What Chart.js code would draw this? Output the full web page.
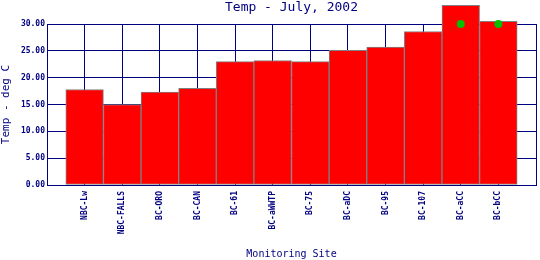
<!DOCTYPE html>
<html lang="en">
<head>
    <meta charset="UTF-8">
    <title>Temp - July, 2002</title>
    <script src="https://cdn.jsdelivr.net/npm/chart.js"></script>
    <style>
        body { margin: 0; background: #fff; }
        .wrap { width: 540px; height: 260px; }
    </style>
</head>
<body>
    <div class="wrap"><canvas id="tempChart" width="540" height="260"></canvas></div>

    <script>
        // sites along the x axis
        const sites = ['NBC-Lw', 'NBC-FALLS', 'BC-ORO', 'BC-CAN', 'BC-61', 'BC-aWWTP',
                       'BC-75', 'BC-aDC', 'BC-95', 'BC-107', 'BC-aCC', 'BC-bCC'];
        // mean temperature (deg C) per site
        const temps = [17.8, 15.0, 17.3, 18.0, 23.0, 23.2, 23.0, 25.1, 25.7, 28.6, 33.5, 30.5];
        // green markers (only two sites have one)
        const markers = [null, null, null, null, null, null, null, null, null, null, 30, 30];
        const yTicks = [0, 5, 10, 15, 20, 25, 30];

        const NAVY = '#000080';
        const MONO = 'DejaVu Sans Mono';

        // x is the site index; a linear axis leaves one empty unit split over both ends
        const barPts = temps.map((v, i) => ({ x: i, y: v }));
        const markPts = markers.map((v, i) => ({ x: i, y: v }));

        new Chart(document.getElementById('tempChart').getContext('2d'), {
            type: 'bar',
            data: {
                datasets: [
                    {
                        type: 'line',
                        data: markPts,
                        showLine: false,
                        pointRadius: 4,
                        pointBackgroundColor: '#00c000',
                        pointBorderWidth: 0,
                        clip: false,
                        order: 1
                    },
                    {
                        data: barPts,
                        backgroundColor: '#ff0000',
                        borderColor: '#808080',
                        borderWidth: 1,
                        borderSkipped: false,
                        categoryPercentage: 1.0,
                        barPercentage: 1.0,
                        clip: false,
                        order: 2
                    }
                ]
            },
            options: {
                responsive: false,
                animation: false,
                layout: { padding: { left: 0, right: 4, top: 0, bottom: 0 } },
                plugins: {
                    legend: { display: false },
                    tooltip: { enabled: false },
                    title: {
                        display: true,
                        text: 'Temp - July, 2002',
                        fullSize: false,
                        color: NAVY,
                        font: { family: MONO, size: 13, weight: 'normal' },
                        padding: { top: 0, bottom: 8.4 }
                    }
                },
                scales: {
                    x: {
                        type: 'linear',
                        min: -1,
                        max: sites.length,
                        offset: false,
                        grid: { offset: false, color: NAVY, drawTicks: false },
                        border: { color: NAVY },
                        afterBuildTicks: s => {
                            s.ticks = [];
                            for (let i = -1; i <= sites.length; i++) s.ticks.push({ value: i });
                        },
                        ticks: {
                            color: NAVY,
                            font: { family: MONO, size: 8, weight: 'bold' },
                            minRotation: 90,
                            maxRotation: 90,
                            padding: 6,
                            autoSkip: false,
                            callback: v => sites[v] || ''
                        },
                        title: {
                            display: true,
                            text: 'Monitoring Site',
                            color: NAVY,
                            font: { family: MONO, size: 10 },
                            padding: { top: 0, bottom: 0 }
                        },
                        afterFit: s => {
                            s.height = 75;
                            s.paddingLeft = 0;
                            s.paddingRight = 0;
                        }
                    },
                    y: {
                        min: 0,
                        max: 30,
                        grid: { color: NAVY, drawTicks: false },
                        border: { color: NAVY },
                        afterBuildTicks: s => { s.ticks = yTicks.map(v => ({ value: v })); },
                        ticks: {
                            color: NAVY,
                            font: { family: MONO, size: 8, weight: 'bold' },
                            padding: 2,
                            callback: v => Number(v).toFixed(2)
                        },
                        title: {
                            display: true,
                            text: 'Temp - deg C',
                            color: NAVY,
                            font: { family: MONO, size: 11 },
                            padding: { top: 0, bottom: 0 }
                        },
                        afterFit: s => { s.width = 47; }
                    }
                }
            }
        });
    </script>
</body>
</html>
